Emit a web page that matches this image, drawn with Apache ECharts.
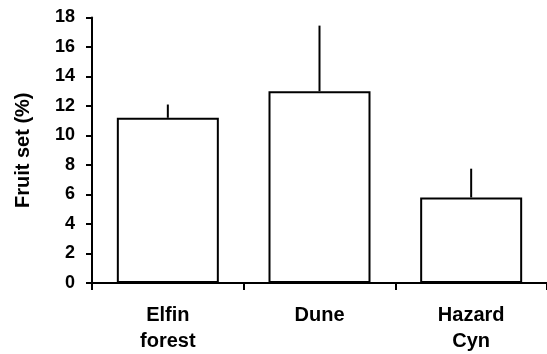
<!DOCTYPE html>
<html><head><meta charset="utf-8">
<script src="https://cdn.jsdelivr.net/npm/echarts@6/dist/echarts.min.js"></script>
<style>html,body{margin:0;padding:0;background:#fff}#c{width:547px;height:354px}</style>
</head><body><div id="c"></div>
<script>
const categories = ['Elfin\nforest', 'Dune', 'Hazard\nCyn'];
const means = [11.2, 13.0, 5.8];
const upperErr = [12.1, 17.45, 7.75];
const yTicks = {min: 0, max: 18, interval: 2};

const chart = echarts.init(document.getElementById('c'), null, {renderer: 'canvas'});
const font = {fontFamily: 'Liberation Sans, Arial, sans-serif', fontWeight: 'bold', fontSize: 20, color: '#000'};
chart.setOption({
  animation: false,
  grid: {left: 92, top: 17.5, bottom: 71, right: -5},
  xAxis: {
    type: 'category', data: categories,
    axisLine: {lineStyle: {color: '#000', width: 2}},
    axisTick: {show: true, length: 7, lineStyle: {color: '#000', width: 2}},
    axisLabel: Object.assign({}, font, {margin: 19, lineHeight: 26, interval: 0})
  },
  yAxis: {
    type: 'value', min: yTicks.min, max: yTicks.max, interval: yTicks.interval,
    name: 'Fruit set (%)', nameLocation: 'middle', nameGap: 59,
    nameTextStyle: font,
    splitLine: {show: false},
    axisLine: {show: true, lineStyle: {color: '#000', width: 2}},
    axisTick: {show: true, length: 6, lineStyle: {color: '#000', width: 2}},
    axisLabel: Object.assign({}, font, {fontSize: 18, margin: 17})
  },
  series: [
    {
      type: 'bar', data: means, barWidth: 102,
      itemStyle: {color: '#fff', borderColor: '#000', borderWidth: 2},
      z: 2
    },
    {
      type: 'custom',
      data: means.map((m, i) => [i, m, upperErr[i]]),
      renderItem: function (params, api) {
        const p1 = api.coord([api.value(0), api.value(1)]);
        const p2 = api.coord([api.value(0), api.value(2)]);
        return {type: 'line', shape: {x1: p1[0], y1: p1[1], x2: p2[0], y2: p2[1]},
          style: {stroke: '#000', lineWidth: 2}};
      },
      z: 3
    }
  ]
});
</script></body></html>
